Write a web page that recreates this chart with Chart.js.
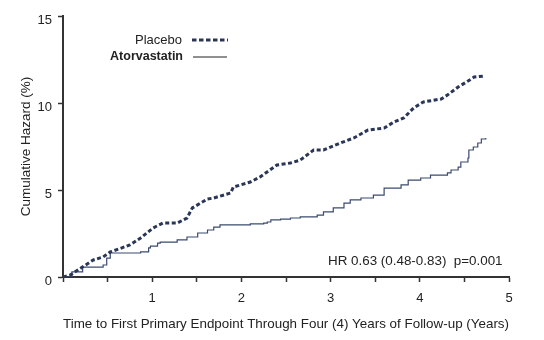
<!DOCTYPE html>
<html>
<head>
<meta charset="utf-8">
<script src="https://cdn.jsdelivr.net/npm/chart.js@4.4.1/dist/chart.umd.min.js"></script>
<style>
  html, body { margin: 0; padding: 0; background: #fff; }
  #wrap { width: 544px; height: 340px; }
</style>
</head>
<body>
<div id="wrap"><canvas id="myChart" width="544" height="340"></canvas></div>
<script>
// years of follow-up vs cumulative hazard (%)
var placeboYears = [0, 0.08, 0.34, 0.45, 0.53, 0.75, 0.87, 1.01, 1.12, 1.28, 1.39, 1.45, 1.62, 1.69, 1.88, 1.91, 2.10, 2.21, 2.40, 2.55, 2.66, 2.81, 2.92, 3.11, 3.26, 3.42, 3.60, 3.71, 3.82, 3.93, 4.04, 4.24, 4.31, 4.43, 4.54, 4.61, 4.72];
var placeboHazard = [0, 0.11, 0.98, 1.15, 1.44, 1.84, 2.24, 2.82, 3.10, 3.10, 3.39, 3.97, 4.48, 4.54, 4.83, 5.17, 5.46, 5.75, 6.44, 6.55, 6.72, 7.30, 7.30, 7.70, 7.99, 8.45, 8.56, 8.91, 9.14, 9.71, 10.06, 10.23, 10.46, 10.92, 11.26, 11.49, 11.55];

var atorvaYears = [0, 0.10, 0.22, 0.45, 0.49, 0.53, 0.87, 0.96, 0.98, 1.06, 1.09, 1.28, 1.39, 1.51, 1.62, 1.69, 1.76, 2.10, 2.25, 2.29, 2.33, 2.44, 2.55, 2.66, 2.85, 2.92, 3.03, 3.15, 3.22, 3.34, 3.48, 3.60, 3.79, 3.87, 4.01, 4.12, 4.31, 4.35, 4.43, 4.46, 4.54, 4.55, 4.60, 4.65, 4.69, 4.74];
var atorvaHazard = [0, 0.29, 0.57, 0.69, 1.09, 1.38, 1.44, 1.67, 1.78, 1.95, 2.01, 2.13, 2.30, 2.53, 2.70, 2.87, 2.99, 3.05, 3.10, 3.16, 3.28, 3.33, 3.39, 3.45, 3.56, 3.74, 3.97, 4.25, 4.43, 4.54, 4.71, 5.11, 5.29, 5.57, 5.69, 5.86, 5.98, 6.15, 6.32, 6.61, 6.84, 7.30, 7.47, 7.70, 7.93, 7.99];

var yTicks = [0, 5, 10, 15];
var xTickLabels = [1, 2, 3, 4, 5];

var seriesNames = ['Placebo', 'Atorvastatin'];
var hrText = 'HR 0.63 (0.48-0.83)  p=0.001';

function toPoints(xs, ys) {
  return xs.map(function(x, i) { return { x: x, y: ys[i] }; });
}

var navy = '#2a3658';
var thin = '#3b4a70';
var axisColor = '#333333';
var font = 'Liberation Sans, Arial, sans-serif';

// legend + HR note, drawn on the canvas
var notes = {
  id: 'notes',
  afterDraw: function(chart) {
    var ctx = chart.ctx;
    ctx.save();
    ctx.fillStyle = '#222';
    ctx.textBaseline = 'middle';
    ctx.textAlign = 'right';
    ctx.font = '13px ' + font;
    ctx.fillText(seriesNames[0], 182, 40);
    ctx.font = 'bold 12.5px ' + font;
    ctx.fillText(seriesNames[1], 183, 57);

    ctx.strokeStyle = navy;
    ctx.lineWidth = 3;
    ctx.setLineDash([4.5, 2.5]);
    ctx.beginPath();
    ctx.moveTo(192, 40);
    ctx.lineTo(228, 40);
    ctx.stroke();
    ctx.setLineDash([]);
    ctx.strokeStyle = '#222';
    ctx.lineWidth = 1.2;
    ctx.beginPath();
    ctx.moveTo(193, 57);
    ctx.lineTo(227, 57);
    ctx.stroke();

    ctx.textAlign = 'left';
    ctx.font = '13.4px ' + font;
    ctx.fillStyle = '#222';
    ctx.fillText(hrText, 328, 261);
    ctx.restore();
  }
};

var ctx = document.getElementById('myChart').getContext('2d');
var myChart = new Chart(ctx, {
  type: 'line',
  data: {
    datasets: [{
      label: seriesNames[0],
      data: toPoints(placeboYears, placeboHazard),
      borderColor: navy,
      borderWidth: 3,
      borderDash: [4, 2.5],
      pointRadius: 0,
      fill: false,
      tension: 0
    }, {
      label: seriesNames[1],
      data: toPoints(atorvaYears, atorvaHazard),
      borderColor: thin,
      borderWidth: 1.2,
      pointRadius: 0,
      fill: false,
      stepped: true
    }]
  },
  options: {
    responsive: false,
    animation: false,
    layout: { padding: { top: 16, right: 35, left: 18, bottom: 8 } },
    plugins: {
      legend: { display: false },
      tooltip: { enabled: false }
    },
    scales: {
      x: {
        type: 'linear',
        min: 0,
        max: 5,
        afterFit: function(scale) { scale.height = 55; },
        afterBuildTicks: function(scale) {
          var t = [];
          for (var i = 0; i <= 10; i++) t.push({ value: i / 2 });
          scale.ticks = t;
        },
        ticks: {
          autoSkip: false,
          maxRotation: 0,
          padding: 9,
          color: '#222',
          font: { family: font, size: 13 },
          callback: function(v) { return xTickLabels.indexOf(v) >= 0 ? String(v) : ''; }
        },
        grid: {
          drawOnChartArea: false,
          tickLength: 5,
          tickWidth: 1.5,
          tickColor: axisColor
        },
        border: { color: axisColor, width: 2 },
        title: {
          display: true,
          text: 'Time to First Primary Endpoint Through Four (4) Years of Follow-up (Years)',
          color: '#222',
          font: { family: font, size: 13.5 },
          padding: { top: 4, bottom: 0 }
        }
      },
      y: {
        min: 0,
        max: 15,
        afterFit: function(scale) { scale.width = 45; },
        afterBuildTicks: function(scale) {
          scale.ticks = yTicks.map(function(v) { return { value: v }; });
        },
        ticks: {
          padding: 6,
          labelOffset: 4,
          color: '#222',
          font: { family: font, size: 13 }
        },
        grid: {
          drawOnChartArea: false,
          tickLength: 5,
          tickWidth: 1.5,
          tickColor: axisColor
        },
        border: { color: axisColor, width: 2 },
        title: {
          display: true,
          text: 'Cumulative Hazard (%)',
          color: '#222',
          font: { family: font, size: 13.5 },
          padding: { top: 0, bottom: 4 }
        }
      }
    }
  },
  plugins: [notes]
});
</script>
</body>
</html>
